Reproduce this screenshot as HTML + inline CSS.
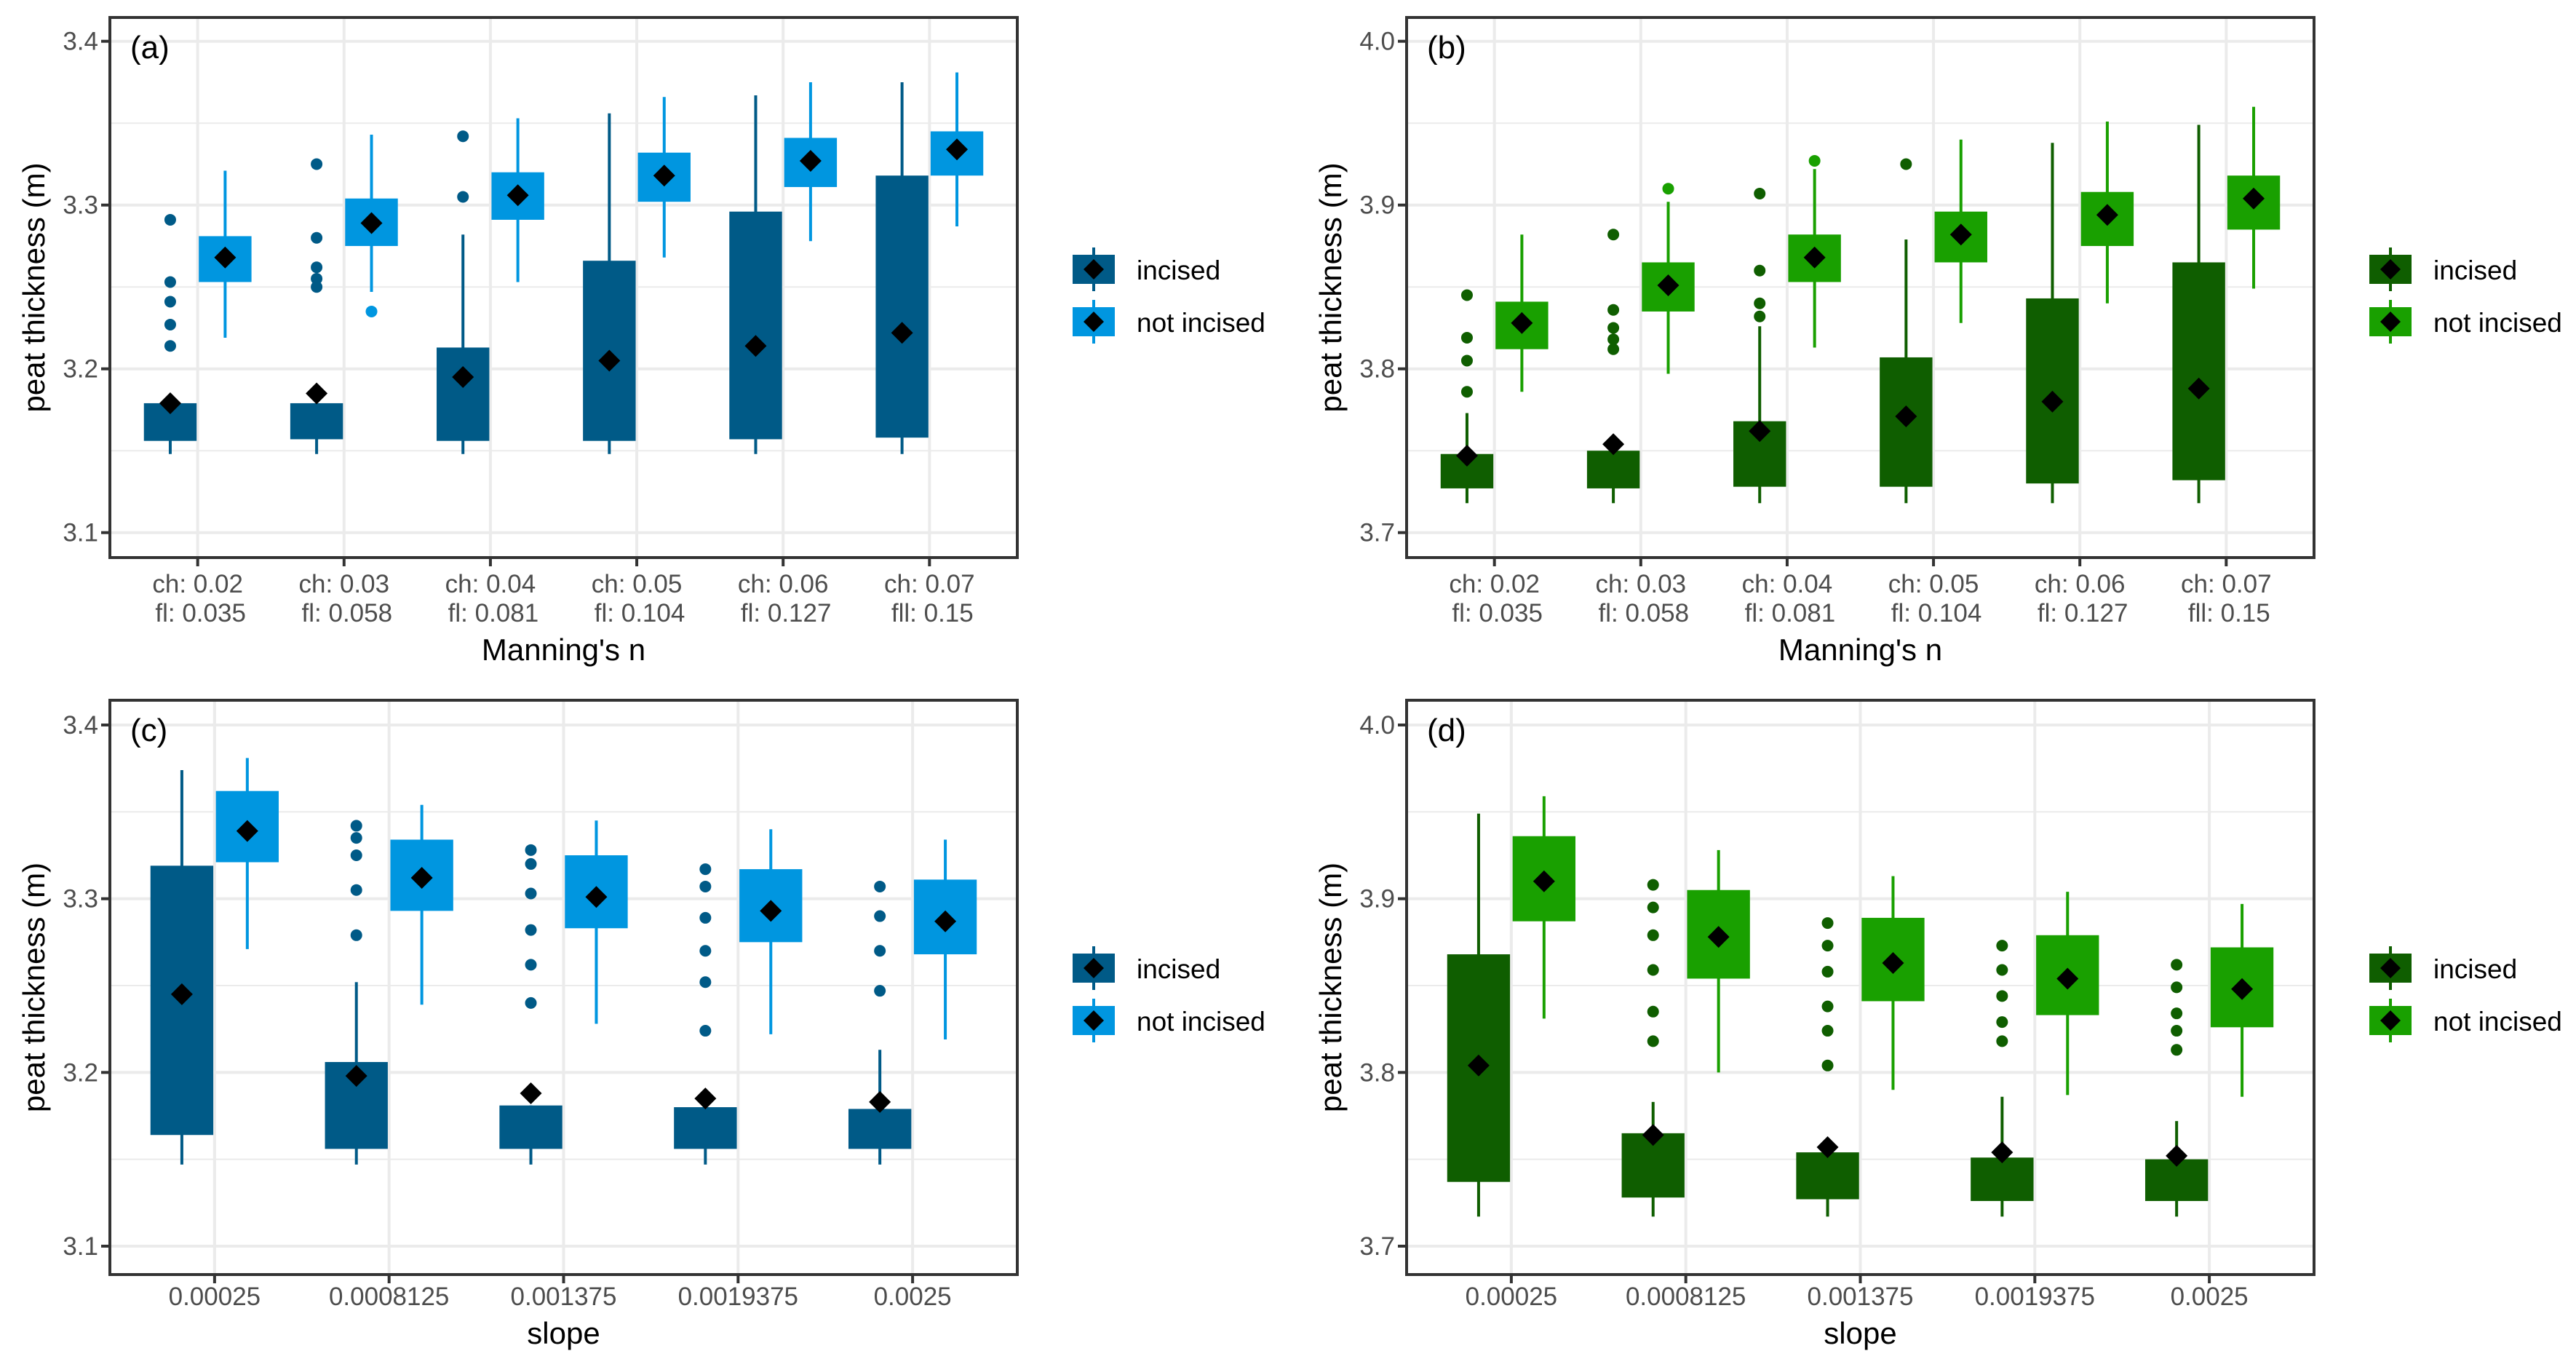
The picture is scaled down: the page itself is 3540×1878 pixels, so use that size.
<!DOCTYPE html>
<html><head><meta charset="utf-8"><style>
html,body{margin:0;padding:0;background:#fff;}
svg{display:block;font-family:"Liberation Sans",Arial,sans-serif;}
</style></head><body>
<svg id="chart" width="3540" height="1878" viewBox="0 0 3540 1878" xmlns="http://www.w3.org/2000/svg"></svg>
<script>
// ---------- data ----------
const catsManning1 = ["ch: 0.02","ch: 0.03","ch: 0.04","ch: 0.05","ch: 0.06","ch: 0.07"];
const catsManning2 = ["fl: 0.035","fl: 0.058","fl: 0.081","fl: 0.104","fl: 0.127","fll: 0.15"];
const catsSlope = ["0.00025","0.0008125","0.001375","0.0019375","0.0025"];
const ticksA = [3.1,3.2,3.3,3.4];
const ticksB = [3.7,3.8,3.9,4.0];
const tickLabelsA = ["3.1","3.2","3.3","3.4"];
const tickLabelsB = ["3.7","3.8","3.9","4.0"];

// panel a
const aIncLo=[3.148,3.148,3.148,3.148,3.148,3.148];
const aIncQ1=[3.156,3.157,3.156,3.156,3.157,3.158];
const aIncQ3=[3.179,3.179,3.213,3.266,3.296,3.318];
const aIncHi=[3.179,3.179,3.282,3.356,3.367,3.375];
const aIncMean=[3.179,3.185,3.195,3.205,3.214,3.222];
const aIncOut=[[3.291,3.253,3.241,3.227,3.214],[3.325,3.28,3.262,3.255,3.25],[3.342,3.305],[],[],[]];
const aNotLo=[3.219,3.247,3.253,3.268,3.278,3.287];
const aNotQ1=[3.253,3.275,3.291,3.302,3.311,3.318];
const aNotQ3=[3.281,3.304,3.32,3.332,3.341,3.345];
const aNotHi=[3.321,3.343,3.353,3.366,3.375,3.381];
const aNotMean=[3.268,3.289,3.306,3.318,3.327,3.334];
const aNotOut=[[],[3.235],[],[],[],[]];
// panel b
const bIncLo=[3.718,3.718,3.718,3.718,3.718,3.718];
const bIncQ1=[3.727,3.727,3.728,3.728,3.730,3.732];
const bIncQ3=[3.748,3.750,3.768,3.807,3.843,3.865];
const bIncHi=[3.773,3.750,3.826,3.879,3.938,3.949];
const bIncMean=[3.747,3.754,3.762,3.771,3.780,3.788];
const bIncOut=[[3.845,3.819,3.805,3.786],[3.882,3.836,3.825,3.818,3.812],[3.907,3.86,3.84,3.832],[3.925],[],[]];
const bNotLo=[3.786,3.797,3.813,3.828,3.840,3.849];
const bNotQ1=[3.812,3.835,3.853,3.865,3.875,3.885];
const bNotQ3=[3.841,3.865,3.882,3.896,3.908,3.918];
const bNotHi=[3.882,3.902,3.922,3.940,3.951,3.960];
const bNotMean=[3.828,3.851,3.868,3.882,3.894,3.904];
const bNotOut=[[],[3.91],[3.927],[],[],[]];
// panel c
const cIncLo=[3.147,3.147,3.147,3.147,3.147];
const cIncQ1=[3.164,3.156,3.156,3.156,3.156];
const cIncQ3=[3.319,3.206,3.181,3.180,3.179];
const cIncHi=[3.374,3.252,3.181,3.180,3.213];
const cIncMean=[3.245,3.198,3.188,3.185,3.183];
const cIncOut=[[],[3.342,3.335,3.325,3.305,3.279],[3.328,3.32,3.303,3.282,3.262,3.24],[3.317,3.307,3.289,3.27,3.252,3.224],[3.307,3.29,3.27,3.247]];
const cNotLo=[3.271,3.239,3.228,3.222,3.219];
const cNotQ1=[3.321,3.293,3.283,3.275,3.268];
const cNotQ3=[3.362,3.334,3.325,3.317,3.311];
const cNotHi=[3.381,3.354,3.345,3.340,3.334];
const cNotMean=[3.339,3.312,3.301,3.293,3.287];
const cNotOut=[[],[],[],[],[]];
// panel d
const dIncLo=[3.717,3.717,3.717,3.717,3.717];
const dIncQ1=[3.737,3.728,3.727,3.726,3.726];
const dIncQ3=[3.868,3.765,3.754,3.751,3.750];
const dIncHi=[3.949,3.783,3.754,3.786,3.772];
const dIncMean=[3.804,3.764,3.757,3.754,3.752];
const dIncOut=[[],[3.908,3.895,3.879,3.859,3.835,3.818],[3.886,3.873,3.858,3.838,3.824,3.804],[3.873,3.859,3.844,3.829,3.818],[3.862,3.849,3.834,3.824,3.813]];
const dNotLo=[3.831,3.800,3.790,3.787,3.786];
const dNotQ1=[3.887,3.854,3.841,3.833,3.826];
const dNotQ3=[3.936,3.905,3.889,3.879,3.872];
const dNotHi=[3.959,3.928,3.913,3.904,3.897];
const dNotMean=[3.910,3.878,3.863,3.854,3.848];
const dNotOut=[[],[],[],[],[]];

// ---------- drawing ----------
const NS="http://www.w3.org/2000/svg";
const svgRoot=document.getElementById('chart');
function mk(tag,parent){const e=document.createElementNS(NS,tag);parent.appendChild(e);return e;}
function attrs(e,o){Object.keys(o).forEach(function(k){e.setAttribute(k,String(o[k]));});return e;}

function panel(p){
  const g=mk('g',svgRoot);
  
  
  const W=p.right-p.left;
  const n=p.cats1.length;
  const step=W/(n+0.2);
  function xc(i){return p.left+step*(0.6+i);}
  function yv(v){return p.y0+(v-p.v0)*(p.y1-p.y0)/(p.v1-p.v0);}
  for(let i=0;i<p.ticks.length-1;i++){
    const m=yv((p.ticks[i]+p.ticks[i+1])/2);
    const l=mk('line',g);attrs(l,{x1:p.left,x2:p.right,y1:m,y2:m,stroke:'#EBEBEB','stroke-width':2});
    
    
  }
  for(let i=0;i<p.ticks.length;i++){
    const t=p.ticks[i];
    const l=mk('line',g);attrs(l,{x1:p.left,x2:p.right,y1:yv(t),y2:yv(t),stroke:'#EBEBEB','stroke-width':4});
    
    
    const tk=mk('line',g);attrs(tk,{x1:p.left-12,x2:p.left,y1:yv(t),y2:yv(t),stroke:'#333333','stroke-width':4});
    
    
    const tx=mk('text',g);attrs(tx,{x:p.left-16,y:yv(t)+12,'text-anchor':'end','font-size':35,fill:'#4D4D4D'});
    tx.textContent=p.tickLabels[i];
    
    
  }
  for(let i=0;i<n;i++){
    const l=mk('line',g);attrs(l,{x1:xc(i),x2:xc(i),y1:p.top,y2:p.bottom,stroke:'#EBEBEB','stroke-width':4});
    
    
  }
  const bw=step*0.36, off=step*0.1875;
  const groups=[
    [p.inc,p.c1,-off,'incised'],
    [p.not,p.c2,off,'not-incised']
  ];
  for(let s=0;s<2;s++){
    const d=groups[s][0], col=groups[s][1], dx=groups[s][2], nm=groups[s][3];
    const lo=d[0],q1=d[1],q3=d[2],hi=d[3],mean=d[4],out=d[5];
    for(let i=0;i<n;i++){
      const x=xc(i)+dx;
      const w=mk('line',g);
      attrs(w,{x1:x,x2:x,y1:yv(lo[i]),y2:yv(hi[i]),stroke:col,'stroke-width':4});
      
      
      const top=yv(q3[i]), bot=yv(q1[i]);
      const r=mk('rect',g);
      attrs(r,{x:x-bw/2,y:Math.min(top,bot),width:bw,height:Math.abs(bot-top),fill:col});
      
      
      const os=out[i];
      for(let k=0;k<os.length;k++){
        const c=mk('circle',g);attrs(c,{cx:x,cy:yv(os[k]),r:8,fill:col});
        
        
      }
      const my=yv(mean[i]);
      const pts=(x-15)+','+my+' '+x+','+(my-15)+' '+(x+15)+','+my+' '+x+','+(my+15);
      const dm=mk('polygon',g);attrs(dm,{points:pts,fill:'#000000'});
      
      
    }
  }
  const fr=mk('rect',g);attrs(fr,{x:p.left,y:p.top,width:W,height:p.bottom-p.top,fill:'none',stroke:'#333333','stroke-width':4});
  
  
  for(let i=0;i<n;i++){
    const tk=mk('line',g);attrs(tk,{x1:xc(i),x2:xc(i),y1:p.bottom,y2:p.bottom+12,stroke:'#333333','stroke-width':4});
    
    
    const t1=mk('text',g);attrs(t1,{x:xc(i),y:p.lab1y,'text-anchor':'middle','font-size':35,fill:'#4D4D4D'});
    t1.textContent=p.cats1[i];
    
    
    if(p.cats2){
      const t2=mk('text',g);attrs(t2,{x:xc(i)+4,y:p.lab1y+40,'text-anchor':'middle','font-size':35,fill:'#4D4D4D'});
      t2.textContent=p.cats2[i];
      
      
    }
  }
  const xt=mk('text',g);attrs(xt,{x:(p.left+p.right)/2,y:p.xtitleY,'text-anchor':'middle','font-size':42,fill:'#000000'});
  xt.textContent=p.xtitle;
  
  
  const yc=(p.top+p.bottom)/2;
  const yt=mk('text',g);attrs(yt,{x:0,y:0,transform:'translate('+(p.left-90)+','+yc+') rotate(-90)','text-anchor':'middle','font-size':42,fill:'#000000'});
  yt.textContent='peat thickness (m)';
  
  
  const pl=mk('text',g);attrs(pl,{x:p.left+28,y:p.top+56,'font-size':44,fill:'#000000'});
  pl.textContent=p.label;
  
  
  const lg=mk('g',g);
  
  
  const entries=[['incised',p.c1],['not incised',p.c2]];
  for(let k=0;k<2;k++){
    const cy=p.legY+k*72;
    const lx=p.right+76;
    const wl=mk('line',lg);attrs(wl,{x1:lx+29,x2:lx+29,y1:cy-30,y2:cy+30,stroke:entries[k][1],'stroke-width':4});
    
    
    const rr=mk('rect',lg);attrs(rr,{x:lx,y:cy-20,width:58,height:40,fill:entries[k][1]});
    
    
    const dd=mk('polygon',lg);attrs(dd,{points:(lx+15)+','+cy+' '+(lx+29)+','+(cy-14)+' '+(lx+43)+','+cy+' '+(lx+29)+','+(cy+14),fill:'#000000'});
    
    
    const tt=mk('text',lg);attrs(tt,{x:lx+88,y:cy+14,'font-size':37,fill:'#000000'});
    tt.textContent=entries[k][0];
    
    
  }
}

const blue1='#005A87',blue2='#0096E0',green1='#0F5E00',green2='#19A000';
panel({id:'a',label:'(a)',left:151,right:1398,top:24,bottom:766,v0:3.4,y0:56.7,v1:3.1,y1:731.7,ticks:ticksA,tickLabels:tickLabelsA,
  cats1:catsManning1,cats2:catsManning2,lab1y:814,xtitle:"Manning's n",xtitleY:907,legY:370,c1:blue1,c2:blue2,
  inc:[aIncLo,aIncQ1,aIncQ3,aIncHi,aIncMean,aIncOut],not:[aNotLo,aNotQ1,aNotQ3,aNotHi,aNotMean,aNotOut]});
panel({id:'b',label:'(b)',left:1933,right:3180,top:24,bottom:766,v0:4.0,y0:56.7,v1:3.7,y1:731.7,ticks:ticksB,tickLabels:tickLabelsB,
  cats1:catsManning1,cats2:catsManning2,lab1y:814,xtitle:"Manning's n",xtitleY:907,legY:370,c1:green1,c2:green2,
  inc:[bIncLo,bIncQ1,bIncQ3,bIncHi,bIncMean,bIncOut],not:[bNotLo,bNotQ1,bNotQ3,bNotHi,bNotMean,bNotOut]});
panel({id:'c',label:'(c)',left:151,right:1398,top:962,bottom:1751,v0:3.4,y0:996,v1:3.1,y1:1712,ticks:ticksA,tickLabels:tickLabelsA,
  cats1:catsSlope,cats2:null,lab1y:1793,xtitle:'slope',xtitleY:1846,legY:1330,c1:blue1,c2:blue2,
  inc:[cIncLo,cIncQ1,cIncQ3,cIncHi,cIncMean,cIncOut],not:[cNotLo,cNotQ1,cNotQ3,cNotHi,cNotMean,cNotOut]});
panel({id:'d',label:'(d)',left:1933,right:3180,top:962,bottom:1751,v0:4.0,y0:996,v1:3.7,y1:1712,ticks:ticksB,tickLabels:tickLabelsB,
  cats1:catsSlope,cats2:null,lab1y:1793,xtitle:'slope',xtitleY:1846,legY:1330,c1:green1,c2:green2,
  inc:[dIncLo,dIncQ1,dIncQ3,dIncHi,dIncMean,dIncOut],not:[dNotLo,dNotQ1,dNotQ3,dNotHi,dNotMean,dNotOut]});
</script>
</body></html>
